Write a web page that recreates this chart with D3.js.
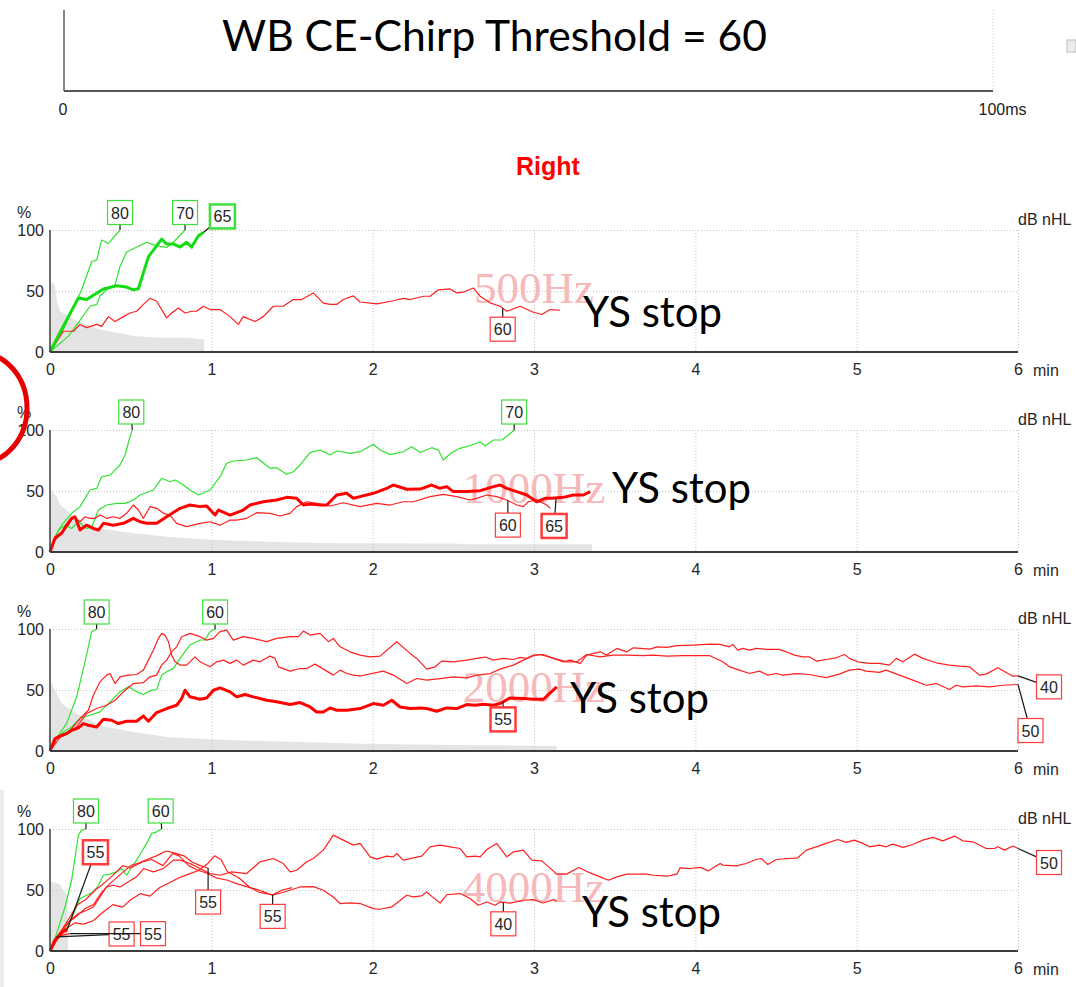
<!DOCTYPE html>
<html>
<head>
<meta charset="utf-8">
<script src="https://cdn.jsdelivr.net/npm/d3@7"></script>
<style>
  body { margin: 0; background: #fff; }
  svg { display: block; }
</style>
</head>
<body>
<div id="chart"></div>
<script>
// ABR threshold search traces, right ear: time (min) vs response (%)

const xTicks = [0, 1, 2, 3, 4, 5, 6];
const yTicks = [0, 50, 100];
const panelNames = ["500Hz", "1000Hz", "2000Hz", "4000Hz"];

// residual noise (grey area) per panel
const noise500 = [[0,0],[0.004,57.5],[0.031,55],[0.041,43],[0.062,33.4],[0.103,30.7],[0.165,25.3],[0.227,22.6],[0.31,18.5],[0.413,15.8],[0.475,14.4],[0.517,13.1],[0.682,11.7],[0.847,11.7],[0.955,10.3],[0.956,0]];
const noise1000 = [[0,0],[0.004,50.8],[0.041,45.3],[0.062,38.5],[0.103,34.4],[0.145,28.9],[0.227,23.5],[0.31,19.3],[0.517,15.3],[0.723,12.6],[1.013,9.8],[1.343,8.5],[1.756,7.1],[2.5,7],[2.6,6.3],[3.36,6.3],[3.361,0]];
const noise2000 = [[0,0],[0.004,56.7],[0.041,47.1],[0.072,38.9],[0.103,36.1],[0.165,30.7],[0.227,26.6],[0.31,21.1],[0.413,18.3],[0.517,15.6],[0.723,11.5],[0.93,10.1],[1.136,8.8],[1.55,7.4],[1.922,6],[2.5,5],[3.14,4],[3.141,0]];
const noise4000 = [[0,0],[0.004,57],[0.06,55],[0.08,50],[0.11,45],[0.111,0]];

// 500 Hz
const g80_500 = [[0,0],[0.083,18.5],[0.196,51],[0.258,74],[0.29,75.5],[0.32,91.8],[0.362,89],[0.434,100]];
const g70_500 = [[0,0],[0.114,13],[0.176,24],[0.248,37.5],[0.29,39],[0.31,45.9],[0.351,51],[0.403,55],[0.434,70],[0.475,82],[0.599,90],[0.661,87],[0.723,85.7],[0.765,90],[0.837,100]];
const g65_500 = [[0,0],[0.072,18.5],[0.176,44.3],[0.227,43],[0.331,51.6],[0.413,54.3],[0.475,53.2],[0.517,51],[0.548,51.8],[0.61,78],[0.692,92.6],[0.723,88.6],[0.765,88.6],[0.806,86],[0.847,90],[0.878,86],[0.92,95.3],[0.951,98]];
const r60_500 = [[0,0],[0.083,17],[0.145,17],[0.186,22.6],[0.227,20],[0.29,22.6],[0.32,21],[0.362,29],[0.403,25],[0.455,29],[0.496,32],[0.537,33.4],[0.579,39],[0.62,44],[0.661,41.6],[0.723,28],[0.754,32],[0.796,36],[0.837,32],[0.878,33.4],[0.909,33.4],[0.95,37.5],[0.992,34.8],[1.054,34.8],[1.116,29],[1.167,22.6],[1.198,29],[1.271,25],[1.322,29],[1.384,37.5],[1.446,37.5],[1.508,43],[1.56,43],[1.632,48.4],[1.694,40],[1.736,39],[1.777,39],[1.818,43],[1.88,46],[1.922,41],[2.025,39.4],[2.128,42],[2.19,44],[2.232,43],[2.314,45.7],[2.356,45.7],[2.407,51],[2.48,51.7],[2.521,48.4],[2.562,49],[2.624,52.5],[2.666,45.7],[2.728,40.3],[2.79,37.5],[2.831,33.4],[2.914,37.5],[2.996,32.6],[3.048,30.7],[3.1,34.8],[3.162,34.2]];

// 1000 Hz
const g80_1000 = [[0,0],[0.031,12.5],[0.072,22],[0.134,31.7],[0.186,37.2],[0.248,50.8],[0.29,52.2],[0.32,61.7],[0.372,63],[0.434,71.3],[0.465,79.5],[0.496,94.5],[0.51,100]];
const g70_1000 = [[0,0],[0.052,18],[0.093,22],[0.134,19.3],[0.176,24.8],[0.227,19.3],[0.258,20.5],[0.3,34.4],[0.351,38.5],[0.413,39.9],[0.465,39.9],[0.517,42.6],[0.558,46.7],[0.641,50.8],[0.692,60.4],[0.744,57.6],[0.775,59],[0.827,54.9],[0.868,50.8],[0.92,46.7],[0.992,50.8],[1.054,61.7],[1.095,72.7],[1.136,74.6],[1.219,75.4],[1.281,77.3],[1.364,68.6],[1.405,69.1],[1.467,63.7],[1.508,65.8],[1.55,71.3],[1.612,81.4],[1.674,83.6],[1.736,79.5],[1.777,82.8],[1.86,80.9],[1.922,82.2],[2.004,88.3],[2.046,83.6],[2.108,79.8],[2.19,82.2],[2.242,86.3],[2.294,81.6],[2.366,85.5],[2.407,83.6],[2.438,75.4],[2.49,81.6],[2.542,85],[2.614,87.7],[2.666,90.4],[2.697,86.9],[2.749,91.8],[2.8,91.8],[2.842,95.9],[2.877,100]];
const r60_1000 = [[0,0],[0.031,9.8],[0.072,15.3],[0.114,22],[0.145,28.9],[0.186,24.8],[0.217,28.9],[0.248,27.6],[0.279,27.6],[0.31,30.3],[0.351,27.6],[0.393,28.9],[0.434,27.6],[0.475,31.7],[0.517,38.5],[0.548,34.4],[0.579,27.6],[0.62,37.2],[0.661,35.8],[0.703,31.7],[0.744,30.3],[0.785,23.5],[0.847,20.8],[0.93,23.5],[0.992,24.8],[1.054,22],[1.116,26.2],[1.157,26.2],[1.219,27.6],[1.281,32.2],[1.364,31.7],[1.426,29.5],[1.488,31.7],[1.529,37.2],[1.591,41.2],[1.653,39.9],[1.736,37.7],[1.818,40.4],[1.922,37.2],[2.025,39.9],[2.108,38.5],[2.19,41.2],[2.252,41.2],[2.356,45.4],[2.438,47.2],[2.521,45.4],[2.604,42.6],[2.645,44],[2.707,46.7],[2.769,45.4],[2.831,42.6],[2.893,38.5],[2.934,37.2],[2.965,41.2],[3.017,42.6],[3.079,38.5],[3.1,35.8]];
const r65_1000 = [[0,0],[0.031,11.4],[0.072,15.3],[0.103,22],[0.134,27.6],[0.155,28.9],[0.186,18],[0.227,22],[0.269,19.3],[0.3,18],[0.331,23.5],[0.393,22],[0.455,23.5],[0.517,27.6],[0.558,24.8],[0.599,23.5],[0.661,23.5],[0.723,28.9],[0.806,35.8],[0.868,38.5],[0.93,37.2],[0.971,37.7],[1.023,30.3],[1.044,34.4],[1.116,30.3],[1.198,34.4],[1.24,38.5],[1.322,41.2],[1.405,42.6],[1.467,44.8],[1.529,44],[1.571,38.5],[1.612,39.3],[1.674,38.5],[1.715,38.5],[1.777,46.7],[1.839,48.1],[1.88,44],[1.922,45.4],[2.004,48.1],[2.087,52.2],[2.128,54.9],[2.211,51.4],[2.294,51.6],[2.366,54.9],[2.418,52.2],[2.459,53.6],[2.5,49.5],[2.583,49.5],[2.666,50.3],[2.749,53.6],[2.79,54.9],[2.831,52.2],[2.893,49.5],[2.955,46.7],[3.017,41.2],[3.069,44],[3.11,44],[3.182,44.8],[3.244,46.7],[3.306,46.7],[3.348,49.5]];

// 2000 Hz
const g80_2000 = [[0,0],[0.052,12.9],[0.103,22.5],[0.165,44.4],[0.217,73.1],[0.258,97.8],[0.289,100]];
const g60_2000 = [[0,0],[0.041,10.2],[0.083,15.6],[0.134,19.7],[0.186,26.6],[0.248,29.3],[0.31,32.1],[0.372,40.3],[0.434,48.5],[0.486,52.6],[0.537,48.5],[0.579,46.3],[0.63,49.9],[0.661,50.4],[0.692,62.2],[0.723,64.9],[0.765,67.7],[0.806,75.9],[0.868,86.9],[0.93,91],[0.961,91],[0.992,97.8],[1.023,100]];
const r40_2000 = [[0,0],[0.072,12.9],[0.134,17],[0.165,19.7],[0.227,30.7],[0.289,34.8],[0.351,37.5],[0.403,41.6],[0.455,48.5],[0.517,55.3],[0.579,56.1],[0.62,60.8],[0.661,62.2],[0.692,70.4],[0.723,74.5],[0.754,81.3],[0.785,85.4],[0.816,93.7],[0.868,96.4],[0.93,93.7],[0.971,90.9],[1.013,92.3],[1.054,97.8],[1.095,99.1],[1.136,90.9],[1.198,93.7],[1.26,92.3],[1.343,89.6],[1.405,92.3],[1.488,93.7],[1.54,93.7],[1.571,98.3],[1.612,95],[1.674,96.4],[1.726,89.6],[1.756,92.3],[1.798,85.4],[1.86,81.3],[1.922,78.6],[1.984,77.2],[2.046,77.8],[2.149,89.6],[2.232,80],[2.273,75.9],[2.335,67.1],[2.387,69],[2.428,73.7],[2.5,73.1],[2.583,74.5],[2.645,75.9],[2.697,77],[2.748,74.5],[2.81,75.9],[2.872,75],[2.914,76.7],[2.955,75.9],[2.996,78.6],[3.058,79.1],[3.121,75.9],[3.183,73.1],[3.224,74.5],[3.286,71.8],[3.327,78.6],[3.41,81.3],[3.451,78.6],[3.513,84.1],[3.575,81.3],[3.616,84.6],[3.72,83.5],[3.761,85.4],[3.823,84.9],[3.885,86.3],[3.988,86.8],[4.091,87.6],[4.153,87.4],[4.17,86.8],[4.212,85.4],[4.232,87.4],[4.263,82.7],[4.294,84.1],[4.336,82.7],[4.377,84.1],[4.439,83.3],[4.521,83.3],[4.563,81.3],[4.614,78.6],[4.666,77.2],[4.707,77.2],[4.749,73.7],[4.811,75],[4.873,76.4],[4.924,79.1],[4.955,75.9],[5.007,73.1],[5.079,71.8],[5.141,71.8],[5.203,70.4],[5.245,75.9],[5.286,73.1],[5.358,79.4],[5.41,75.9],[5.493,72.3],[5.575,70.4],[5.637,69.6],[5.699,69],[5.761,62.2],[5.803,63],[5.875,68.2],[5.927,64.4],[5.968,61.3],[6,61.6]];
const r50_2000 = [[0,0],[0.041,10.1],[0.093,12.9],[0.134,18.3],[0.186,26.6],[0.238,33.4],[0.269,45.7],[0.31,56.7],[0.351,62.2],[0.372,63.5],[0.403,55.3],[0.434,60.8],[0.486,62.2],[0.537,62.7],[0.579,66.3],[0.61,74.5],[0.641,82.7],[0.672,92.3],[0.692,96.4],[0.713,95],[0.734,89.6],[0.754,78.6],[0.775,73.1],[0.806,70.4],[0.847,70.4],[0.878,74.5],[0.899,77.2],[0.93,73.1],[0.992,69],[1.033,73.1],[1.075,74.5],[1.116,71.8],[1.157,74.5],[1.198,70.4],[1.26,74.5],[1.302,73.1],[1.364,77.8],[1.395,75.9],[1.416,69],[1.488,65.5],[1.55,67.6],[1.591,67.6],[1.643,71.2],[1.705,66.3],[1.756,62.2],[1.798,66.3],[1.839,63.5],[1.881,62.2],[1.922,61.5],[2.066,65.5],[2.128,62.2],[2.211,55.3],[2.273,59.4],[2.335,58.1],[2.418,59.4],[2.5,60.8],[2.583,60],[2.645,62.2],[2.728,63.5],[2.79,67.1],[2.872,70.4],[2.934,74.5],[2.996,78.1],[3.038,79.1],[3.121,75.9],[3.203,73.1],[3.265,73.1],[3.327,79.1],[3.41,77.2],[3.492,78.6],[3.575,78.6],[3.678,78.1],[3.74,78.6],[3.823,77.8],[3.926,78.1],[4.091,78.1],[4.17,73.1],[4.212,69],[4.273,66.3],[4.336,63.5],[4.397,65.5],[4.449,62.2],[4.501,63.5],[4.542,62.2],[4.625,63.5],[4.707,62.7],[4.811,60.2],[4.893,63],[4.955,66.3],[5.017,67.1],[5.059,65.5],[5.141,64.4],[5.183,66.3],[5.265,62.2],[5.348,58.1],[5.431,53.9],[5.493,55.3],[5.575,50.4],[5.617,53.9],[5.658,52.6],[5.741,53.4],[5.823,52.6],[5.906,53.9],[6,54.5]];
const r55_2000 = [[0,0],[0.031,10.1],[0.072,12.9],[0.103,14.2],[0.134,17],[0.176,18.9],[0.207,22.5],[0.238,21.1],[0.289,19.7],[0.331,26],[0.382,25.2],[0.424,22.5],[0.475,24.4],[0.537,24.4],[0.579,28.7],[0.61,24.4],[0.661,31.5],[0.723,34.8],[0.785,37.5],[0.816,43],[0.837,49.8],[0.868,44.4],[0.93,42.4],[0.971,43.5],[1.013,49.8],[1.054,51.8],[1.116,48.5],[1.157,44.4],[1.209,46.3],[1.26,44.4],[1.343,41.6],[1.405,40.3],[1.488,38.1],[1.55,39.7],[1.612,36.1],[1.653,32],[1.694,32],[1.736,35.3],[1.777,33.4],[1.839,33.4],[1.922,34.8],[2.004,38.9],[2.066,37.5],[2.118,41.6],[2.17,36.1],[2.232,34.8],[2.294,35.3],[2.335,34.8],[2.397,32.6],[2.459,35.3],[2.521,34.8],[2.583,38.1],[2.635,37.5],[2.686,38.3],[2.748,37.5],[2.79,38.9],[2.852,43.5],[2.934,43],[2.996,42.4],[3.058,42.4],[3.141,52.6]];

// 4000 Hz
const g80_4000 = [[0,0],[0.041,14.2],[0.093,36.1],[0.134,58],[0.176,95],[0.196,99.1],[0.223,100]];
const g60_4000 = [[0,0],[0.052,11.5],[0.103,18.3],[0.155,33.4],[0.186,43],[0.227,45.7],[0.269,48.4],[0.3,53.9],[0.331,62.1],[0.372,63],[0.413,64.9],[0.444,67.6],[0.475,62.1],[0.506,69],[0.537,74.5],[0.568,81.3],[0.599,88.2],[0.63,96.4],[0.661,97.7],[0.692,100]];
const r55a_4000 = [[0,0],[0.03,8],[0.06,13],[0.08,16],[0.105,17]];
const r55b_4000 = [[0,0],[0.02,8],[0.041,11.5]];
const r55c_4000 = [[0,0],[0.04,10],[0.08,13],[0.124,14.2]];
const r55d_4000 = [[0,0],[0.05,13],[0.1,22],[0.16,28],[0.22,35],[0.27,38],[0.32,48],[0.37,55],[0.43,62],[0.5,70],[0.55,72],[0.6,75],[0.66,78],[0.72,82],[0.78,80],[0.83,78],[0.88,73],[0.93,70],[0.98,68]];
const r55e_4000 = [[0,0],[0.05,12],[0.11,25],[0.17,38],[0.22,42],[0.28,50],[0.33,55],[0.39,62],[0.45,70],[0.5,68],[0.57,73],[0.63,75],[0.7,70],[0.76,80],[0.8,78],[0.86,70],[0.92,66],[0.98,72],[1.02,78],[1.06,75],[1.1,65],[1.17,60],[1.24,52],[1.3,48],[1.38,46],[1.44,50],[1.5,52]];
const r40_4000 = [[0,0],[0.041,11.5],[0.093,18],[0.155,23],[0.21,22],[0.27,25],[0.33,32],[0.39,38],[0.45,36],[0.5,42],[0.56,47],[0.62,45],[0.68,52],[0.74,56],[0.8,60],[0.86,63],[0.92,66],[0.97,64],[1.03,60],[1.1,58],[1.16,55],[1.24,52],[1.3,49.8],[1.38,45.7],[1.45,48.4],[1.55,52.5],[1.632,52.8],[1.694,49.8],[1.756,44.3],[1.798,38.9],[1.86,39.5],[1.922,38.9],[2.004,34.7],[2.046,34.2],[2.118,36.1],[2.211,45.7],[2.252,44.3],[2.304,45.2],[2.335,48.4],[2.366,44.8],[2.418,39.3],[2.459,46.1],[2.542,47.1],[2.604,43],[2.655,37.5],[2.707,40.2],[2.759,37.5],[2.79,40.2],[2.852,39.3],[2.934,41.6],[2.996,42.1],[3.058,39.3],[3.12,42.1],[3.141,41]];
const r50_4000 = [[0,0],[0.052,11.5],[0.124,25.2],[0.176,30.6],[0.227,33.4],[0.269,36.1],[0.31,44.3],[0.351,52.5],[0.393,53.9],[0.434,52.5],[0.486,56.7],[0.537,60.8],[0.579,67.6],[0.641,64.9],[0.703,67.6],[0.765,74.5],[0.806,74.5],[0.868,71.7],[0.93,67.6],[0.992,63.5],[1.054,62.1],[1.126,64.9],[1.219,63.5],[1.302,73.1],[1.384,75.8],[1.446,71.7],[1.488,64.9],[1.529,66.2],[1.591,73.1],[1.632,75.8],[1.694,82.7],[1.756,95],[1.818,90.9],[1.88,86.8],[1.922,88.2],[1.984,77.2],[2.025,75.3],[2.087,77.8],[2.128,77.2],[2.149,79.9],[2.19,74.5],[2.252,76.4],[2.304,77.8],[2.356,85.4],[2.418,86.8],[2.48,85.4],[2.542,84],[2.583,77.2],[2.635,77.8],[2.666,77.2],[2.707,83.2],[2.769,88.2],[2.831,77.2],[2.873,81.3],[2.934,82.7],[2.986,74.5],[3.048,73.9],[3.141,63],[3.203,63],[3.276,68.4],[3.348,64],[3.41,60.8],[3.462,58],[3.513,60.8],[3.575,63],[3.699,63],[3.74,62.1],[3.823,61.3],[3.885,63],[3.906,68.2],[3.968,67.6],[4.03,68.5],[4.082,65.7],[4.154,71.7],[4.17,70.4],[4.253,69.8],[4.315,71.7],[4.377,75],[4.408,75.8],[4.449,70.9],[4.501,75],[4.635,76.4],[4.687,82.7],[4.749,85.4],[4.811,88.2],[4.883,91.4],[4.935,89],[4.986,90.9],[5.038,88.2],[5.079,85.4],[5.141,86.8],[5.183,85.4],[5.224,87.6],[5.286,84.9],[5.348,87.3],[5.41,90.9],[5.472,93.1],[5.534,90.3],[5.606,94.2],[5.658,90.3],[5.72,89.5],[5.803,84],[5.854,84],[5.875,85.4],[5.916,82.7],[5.968,86],[6,84]];

const noiseByPanel = [noise500, noise1000, noise2000, noise4000];

// kind: g = green trace, r = red trace; final = bold trace; db = level label; at = label time (null = end)
const traces = [
  {panel: 0, kind: "g", final: false, db: 80, at: null,  pts: g80_500},
  {panel: 0, kind: "g", final: false, db: 70, at: null,  pts: g70_500},
  {panel: 0, kind: "g", final: true,  db: 65, at: null,  pts: g65_500},
  {panel: 0, kind: "r", final: false, db: 60, at: 2.806, pts: r60_500},
  {panel: 1, kind: "g", final: false, db: 80, at: null,  pts: g80_1000},
  {panel: 1, kind: "g", final: false, db: 70, at: null,  pts: g70_1000},
  {panel: 1, kind: "r", final: false, db: 60, at: 2.838, pts: r60_1000},
  {panel: 1, kind: "r", final: true,  db: 65, at: 3.137, pts: r65_1000},
  {panel: 2, kind: "g", final: false, db: 80, at: null,  pts: g80_2000},
  {panel: 2, kind: "g", final: false, db: 60, at: null,  pts: g60_2000},
  {panel: 2, kind: "r", final: false, db: 40, at: null,  pts: r40_2000},
  {panel: 2, kind: "r", final: false, db: 50, at: null,  pts: r50_2000},
  {panel: 2, kind: "r", final: true,  db: 55, at: 2.808, pts: r55_2000},
  {panel: 3, kind: "g", final: false, db: 80, at: null,  pts: g80_4000},
  {panel: 3, kind: "g", final: false, db: 60, at: null,  pts: g60_4000},
  {panel: 3, kind: "r", final: true,  db: 55, at: null,  pts: r55a_4000},
  {panel: 3, kind: "r", final: false, db: 55, at: null,  pts: r55b_4000},
  {panel: 3, kind: "r", final: false, db: 55, at: null,  pts: r55c_4000},
  {panel: 3, kind: "r", final: false, db: 55, at: null,  pts: r55d_4000},
  {panel: 3, kind: "r", final: false, db: 55, at: 1.38,  pts: r55e_4000},
  {panel: 3, kind: "r", final: false, db: 40, at: 2.81,  pts: r40_4000},
  {panel: 3, kind: "r", final: false, db: 50, at: null,  pts: r50_4000}
];

// layout (px)
const W = 1076, H = 987;
const plotLeft = 50, plotRight = 1018, plotH = 122;
const panelTops = [230, 430, 629, 829];
const ysStopPos = [[583, 327], [612, 503], [570, 713], [582, 927]];
// label box centre relative to the anchor point, one per trace
const labelOffsets = [[0,-17.5],[0,-17.5],[19,-16],[0,21],[-1,-18],[0,-18],[0,24.5],[-2,28],[0,-17],[0,-17],[31,11],[12.5,46],[0,17.5],[0,-18],[-1,-18],[28.5,-78],[65,-3],[83,0],[0,34],[0,21.5],[0,21.5],[31,14]];
const boxW = 25, boxH = 24;

const colors = {
  g: "#2fe32f", gFinal: "#14dc14", gBox: "#3ddf3d",
  r: "#ff1f1f", rFinal: "#ff0000", rBox: "#ff3b3b",
  noise: "#e4e4e4", grid: "#c3c3c3", axis: "#3c3c3c", text: "#262626",
  wmark: "#f6b8b8"
};
const tickFont = "'Liberation Sans', Arial, sans-serif";
const noteFont = "Lato, 'Open Sans', sans-serif";

const svg = d3.select("#chart").append("svg")
  .attr("width", W)
  .attr("height", H)
  .style("background", "#fff");

// ---- top window: WB CE-Chirp
const xTop = d3.scaleLinear().domain([0, 100]).range([64, 993]);
const topWin = svg.append("g");
topWin.append("line").attr("x1", 64).attr("x2", 64).attr("y1", 10).attr("y2", 91)
  .attr("stroke", "#333").attr("stroke-width", 1.2);
topWin.append("line").attr("x1", 993).attr("x2", 993).attr("y1", 10).attr("y2", 91)
  .attr("stroke", "#c8c8c8").attr("stroke-dasharray", "1,2");
topWin.append("line").attr("x1", 64).attr("x2", 993).attr("y1", 91).attr("y2", 91)
  .attr("stroke", "#555").attr("stroke-width", 2);
const topAxis = topWin.append("g")
  .attr("transform", "translate(0,91)")
  .call(d3.axisBottom(xTop).tickValues([0, 100]).tickSize(0).tickPadding(13)
    .tickFormat(d => d ? d + "ms" : "0"));
topAxis.select(".domain").remove();
topAxis.selectAll("text")
  .attr("font-family", tickFont).attr("font-size", 16).attr("fill", "#222")
  .attr("text-anchor", d => d ? "start" : "middle")
  .attr("dx", d => d ? -15 : -1.5);

topWin.append("text")
  .attr("x", 222).attr("y", 51)
  .attr("font-family", noteFont).attr("font-size", 42)
  .attr("textLength", 545).attr("lengthAdjust", "spacingAndGlyphs")
  .attr("fill", "#000")
  .text("WB CE-Chirp Threshold = 60");

svg.append("rect").attr("x", 1067).attr("y", 40).attr("width", 9).attr("height", 12)
  .attr("fill", "#ececec").attr("stroke", "#bdbdbd");

svg.append("text")
  .attr("x", 548).attr("y", 175)
  .attr("text-anchor", "middle")
  .attr("font-family", tickFont).attr("font-weight", "bold").attr("font-size", 25)
  .attr("fill", "#ff0000")
  .text("Right");

// ---- side decorations
svg.append("rect").attr("x", 0).attr("y", 790).attr("width", 4).attr("height", 197).attr("fill", "#ececec");

const x = d3.scaleLinear().domain([0, 6]).range([plotLeft, plotRight]);

function valueAt(pts, t) {
  for (let k = 1; k < pts.length; k++) {
    if (pts[k][0] >= t) {
      const a = pts[k - 1], b = pts[k];
      return a[1] + (b[1] - a[1]) * (t - a[0]) / (b[0] - a[0]);
    }
  }
  return pts[pts.length - 1][1];
}

panelNames.forEach((name, i) => {
  const pTop = panelTops[i];
  const y = d3.scaleLinear().domain([0, 100]).range([pTop + plotH, pTop]);
  const g = svg.append("g").attr("class", "panel");

  // residual noise
  g.append("path")
    .datum(noiseByPanel[i])
    .attr("fill", colors.noise)
    .attr("d", d3.area().x(d => x(d[0])).y0(y(0)).y1(d => y(d[1])));

  // grid
  g.selectAll(".hgrid").data([50, 100]).enter().append("line")
    .attr("x1", plotLeft).attr("x2", plotRight)
    .attr("y1", d => y(d) + 0.5).attr("y2", d => y(d) + 0.5)
    .attr("stroke", colors.grid).attr("stroke-dasharray", "1,2");
  g.selectAll(".vgrid").data(xTicks.slice(1)).enter().append("line")
    .attr("x1", d => x(d) + 0.5).attr("x2", d => x(d) + 0.5)
    .attr("y1", y(100)).attr("y2", y(0))
    .attr("stroke", colors.grid).attr("stroke-dasharray", "1,2");

  // frequency watermark
  g.append("text")
    .attr("x", 534).attr("y", pTop + 73)
    .attr("text-anchor", "middle")
    .attr("font-family", "'Liberation Serif', 'Times New Roman', serif")
    .attr("font-size", 45)
    .attr("fill", colors.wmark)
    .text(name);

  // traces, bold ones on top
  const line = d3.line().x(d => x(d[0])).y(d => y(d[1]));
  const own = traces.filter(t => t.panel === i).sort((a, b) => a.final - b.final);
  g.selectAll(".trace").data(own).enter().append("path")
    .attr("fill", "none")
    .attr("stroke", d => d.final ? colors[d.kind + "Final"] : colors[d.kind])
    .attr("stroke-width", d => d.final ? 3 : 1.2)
    .attr("stroke-linejoin", "round")
    .attr("d", d => line(d.pts));

  // axes
  const xa = g.append("g")
    .attr("transform", "translate(0," + y(0) + ")")
    .call(d3.axisBottom(x).tickValues(xTicks).tickFormat(d3.format("d")).tickSize(0).tickPadding(12));
  const ya = g.append("g")
    .attr("transform", "translate(" + plotLeft + ",0)")
    .call(d3.axisLeft(y).tickValues(yTicks).tickSize(0).tickPadding(6));
  [xa, ya].forEach(a => {
    a.select(".domain").remove();
    a.selectAll("text").attr("font-family", tickFont).attr("font-size", 16).attr("fill", colors.text);
  });
  g.append("line").attr("x1", plotLeft).attr("x2", plotLeft).attr("y1", y(100)).attr("y2", y(0))
    .attr("stroke", colors.axis).attr("stroke-width", 1.5);
  g.append("line").attr("x1", plotLeft).attr("x2", plotRight).attr("y1", y(0)).attr("y2", y(0))
    .attr("stroke", colors.axis).attr("stroke-width", 2);

  g.append("text").attr("x", 17).attr("y", pTop - 12)
    .attr("font-family", tickFont).attr("font-size", 16).attr("fill", colors.text).text("%");
  g.append("text").attr("x", plotRight).attr("y", pTop - 5)
    .attr("font-family", tickFont).attr("font-size", 16).attr("fill", colors.text).text("dB nHL");
  g.append("text").attr("x", plotRight + 15).attr("y", y(0) + 24)
    .attr("font-family", tickFont).attr("font-size", 16).attr("fill", colors.text).text("min");

  // level labels with connectors
  traces.forEach((t, k) => {
    if (t.panel !== i) return;
    const last = t.pts[t.pts.length - 1];
    const at = t.at === null ? last[0] : t.at;
    const ax = x(at), ay = y(t.at === null ? last[1] : valueAt(t.pts, t.at));
    const [dx, dy] = labelOffsets[k];
    const cx = ax + dx, cy = ay + dy;
    const f = Math.min(dx ? (boxW / 2) / Math.abs(dx) : Infinity, dy ? (boxH / 2) / Math.abs(dy) : Infinity);
    if (f < 1) {
      g.append("line")
        .attr("x1", ax).attr("y1", ay)
        .attr("x2", cx - dx * f).attr("y2", cy - dy * f)
        .attr("stroke", "#1a1a1a").attr("stroke-width", 1.2);
    }
    g.append("rect")
      .attr("x", cx - boxW / 2).attr("y", cy - boxH / 2)
      .attr("width", boxW).attr("height", boxH)
      .attr("fill", "#fff")
      .attr("stroke", colors[t.kind + "Box"])
      .attr("stroke-width", t.final ? 2.5 : 1.2);
    g.append("text")
      .attr("x", cx).attr("y", cy + 6)
      .attr("text-anchor", "middle")
      .attr("font-family", tickFont).attr("font-size", 16).attr("fill", colors.text)
      .text(t.db);
  });

  // annotation
  g.append("text")
    .attr("x", ysStopPos[i][0]).attr("y", ysStopPos[i][1])
    .attr("font-family", noteFont).attr("font-size", 42)
    .attr("textLength", 139).attr("lengthAdjust", "spacingAndGlyphs")
    .attr("fill", "#000")
    .text("YS stop");
});

// red marker circle on the left edge
svg.append("ellipse")
  .attr("cx", -20).attr("cy", 408).attr("rx", 47).attr("ry", 55)
  .attr("fill", "none").attr("stroke", "#e80000").attr("stroke-width", 5);
</script>
</body>
</html>
